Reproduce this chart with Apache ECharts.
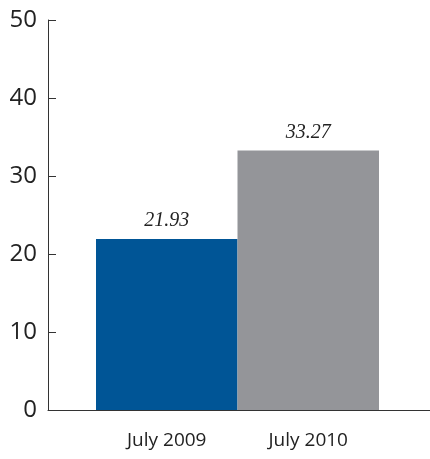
<!DOCTYPE html>
<html><head><meta charset="utf-8">
<script src="https://cdn.jsdelivr.net/npm/echarts@6/dist/echarts.min.js"></script>
<style>html,body{margin:0;padding:0;background:#fff}#c{width:430px;height:459px}</style>
</head><body><div id="c"></div>
<script>
const categories = ['July 2009', 'July 2010'];
const values = [21.93, 33.27];
const barColors = ['#005596', '#949599'];
const yTicks = [0, 10, 20, 30, 40, 50];

const chart = echarts.init(document.getElementById('c'));
chart.setOption({
  animation: false,
  grid: [
    {left: 96, right: 51, top: 20, bottom: 49},
    {left: 48, right: 0, top: 20, bottom: 49}
  ],
  xAxis: [
    {type: 'category', gridIndex: 0, data: categories, boundaryGap: true,
     axisLine: {show: false}, axisTick: {show: false},
     axisLabel: {margin: 21, fontSize: 19, color: '#222', fontFamily: 'Open Sans'}},
    {type: 'value', gridIndex: 1, min: 0, max: 1, show: true,
     axisLine: {show: true, lineStyle: {color: '#333', width: 1}},
     axisTick: {show: false}, axisLabel: {show: false}, splitLine: {show: false}}
  ],
  yAxis: [
    {type: 'value', gridIndex: 0, min: 0, max: 50, interval: 10, offset: 48,
     axisLine: {show: true, lineStyle: {color: '#333', width: 1}},
     axisTick: {show: true, inside: true, length: 8, lineStyle: {color: '#333'}},
     splitLine: {show: false},
     axisLabel: {margin: 11, fontSize: 24, color: '#222', fontFamily: 'Open Sans',
       formatter: v => yTicks.includes(v) ? String(v) : ''}},
    {type: 'value', gridIndex: 1, min: 0, max: 1, show: false}
  ],
  series: [{
    type: 'bar', xAxisIndex: 0, yAxisIndex: 0, barWidth: '100%',
    data: values.map((v, i) => ({value: v, itemStyle: {color: barColors[i]}})),
    label: {show: true, position: 'top', distance: 8, fontSize: 20, fontStyle: 'italic',
      fontFamily: 'Liberation Serif', color: '#222', formatter: p => p.value.toFixed(2)}
  }]
});
</script></body></html>
